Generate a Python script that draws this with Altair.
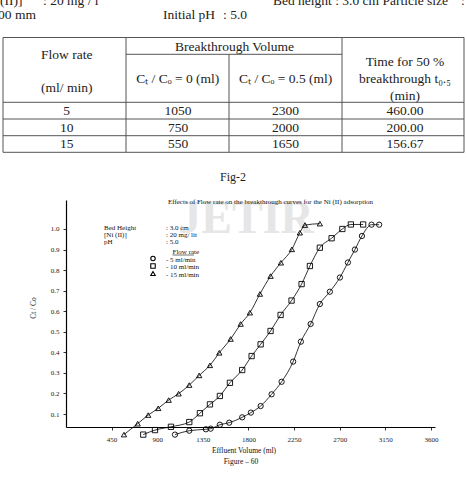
import altair as alt
import pandas as pd

# ---------------- data ----------------
rate_names = ["5", "10", "15"]

# 15 ml/min (triangles)
tri_vol = [572, 707, 811, 910, 1013, 1111, 1216, 1314, 1420, 1512, 1624, 1723, 1814,
           1913, 2018, 2120, 2228, 2307, 2357, 2504]
tri_ratio = [0.0, 0.053, 0.095, 0.128, 0.168, 0.199, 0.241, 0.288, 0.337, 0.398, 0.465,
             0.538, 0.593, 0.684, 0.771, 0.836, 0.901, 0.982, 1.019, 1.026]
# 10 ml/min (squares)
sq_vol = [762, 878, 1035, 1216, 1321, 1420, 1518, 1617, 1738, 1831, 1920, 2018, 2117,
          2225, 2324, 2406, 2504, 2620, 2726, 2810, 2931]
sq_ratio = [0.0, 0.022, 0.038, 0.061, 0.104, 0.147, 0.188, 0.252, 0.314, 0.382, 0.439,
            0.504, 0.582, 0.652, 0.732, 0.820, 0.909, 0.955, 1.0, 1.022, 1.022]
# 5 ml/min (circles)
ci_vol = [1075, 1216, 1380, 1427, 1518, 1610, 1738, 1824, 1920, 2028, 2127, 2241, 2317,
          2413, 2504, 2603, 2702, 2781, 2850, 2919, 3014, 3089]
ci_ratio = [0.0, 0.019, 0.026, 0.029, 0.048, 0.058, 0.084, 0.107, 0.139, 0.196, 0.257,
            0.355, 0.452, 0.538, 0.635, 0.695, 0.764, 0.837, 0.900, 0.966, 1.021, 1.021]

x_ticks = [450, 900, 1350, 1800, 2250, 2700, 3150, 3600]
y_ticks = [0.1, 0.2, 0.3, 0.4, 0.5, 0.6, 0.7, 0.8, 0.9, 1.0]

# table
flow_rates = ["5", "10", "15"]
bv_zero = ["1050", "750", "550"]
bv_half = ["2300", "2000", "1650"]
t_half = ["460.00", "200.00", "156.67"]

# ---------------- layout ----------------
FONT = "Liberation Serif"
OX, OY = 66, 200          # plot origin on the page
W, H = 369, 227           # plot area
PAGE_W, PAGE_H = 467, 478


def rx(v):
    return v - OX


def ry(v):
    return v - OY


rows = []
for vol, rat, name in ((ci_vol, ci_ratio, "5"), (sq_vol, sq_ratio, "10"), (tri_vol, tri_ratio, "15")):
    for a, b in zip(vol, rat):
        rows.append({"vol": a, "ratio": b, "rate": name})
df = pd.DataFrame(rows)

x_enc = alt.X("vol:Q", scale=alt.Scale(domain=[0, 3640], nice=False, zero=False),
              axis=alt.Axis(values=x_ticks, title=None, labelPadding=5, tickSize=3,
                            format="d", labelFlush=False))
y_enc = alt.Y("ratio:Q", scale=alt.Scale(domain=[0.037, 1.141], nice=False, zero=False),
              axis=alt.Axis(values=y_ticks, title=None, format=".1f", labelPadding=4, tickSize=3))

base = alt.Chart(df)
lines = base.mark_line(color="black", strokeWidth=0.8, interpolate="monotone").encode(
    x=x_enc, y=y_enc, detail="rate:N")
points = base.mark_point(filled=False, color="black", size=28, strokeWidth=0.9, opacity=1).encode(
    x=x_enc, y=y_enc,
    shape=alt.Shape("rate:N", scale=alt.Scale(domain=rate_names,
                                              range=["circle", "square", "triangle-up"]),
                    legend=None))


def text_layer(items, **kw):
    d = pd.DataFrame([{"x": rx(a), "y": ry(b), "t": t} for a, b, t in items])
    params = dict(font=FONT, color="#222")
    params.update(kw)
    return alt.Chart(d).mark_text(**params).encode(
        x=alt.X("x:Q", scale=None, axis=None),
        y=alt.Y("y:Q", scale=None, axis=None),
        text="t:N")


def rule_layer(segs, **kw):
    d = pd.DataFrame([{"x": rx(a), "x2": rx(b), "y": ry(c), "y2": ry(e)} for a, b, c, e in segs])
    return alt.Chart(d).mark_rule(**kw).encode(
        x=alt.X("x:Q", scale=None, axis=None), x2="x2:Q",
        y=alt.Y("y:Q", scale=None, axis=None), y2="y2:Q")


# watermark
watermark = text_layer([(246, 219, "JETIR")], fontSize=46, fontWeight="bold",
                       color="#e6e6e6", align="center", baseline="middle")

# header lines above the table (partly cut at the top of the page)
header = text_layer([
    (0, 5, "(II)]"), (43, 5, ": 20 mg / l"),
    (273, 5, "Bed height : 3.0 cm Particle size"), (461, 5, ":"),
    (-2, 19, "00 mm"), (163, 19, "Initial pH"), (223, 19, ": 5.0"),
], fontSize=13.5, align="left", baseline="alphabetic")

# table
TX = [3, 126, 229, 342, 464]
TY = [37.5, 54.3, 102.3, 119, 135.7, 152.3]
table_lines = rule_layer(
    [(TX[0], TX[-1], TY[0], TY[0]), (TX[1], TX[3], TY[1], TY[1])]
    + [(TX[0], TX[-1], y, y) for y in TY[2:]]
    + [(x, x, TY[0], TY[-1]) for x in (TX[0], TX[1], TX[3], TX[4])]
    + [(TX[2], TX[2], TY[1], TY[-1])],
    color="#555", strokeWidth=1)

col_c = [66.7, 178, 285.5, 405]
row_c = [111.3, 127.5, 144]
cells = []
for i in range(3):
    for j, vals in enumerate((flow_rates, bv_zero, bv_half, t_half)):
        cells.append((col_c[j], row_c[i], vals[i]))
cells += [
    (66.7, 54.5, "Flow rate"), (66.7, 87.5, "(ml/ min)"),
    (234.5, 46.5, "Breakthrough Volume"),
    (177.7, 79, "C\u209c / C\u2092 = 0 (ml)"), (285.7, 79, "C\u209c / C\u2092 = 0.5 (ml)"),
    (405, 62.3, "Time for 50 %"), (405, 79, "breakthrough t\u2080.\u2085"), (405, 95.7, "(min)"),
]
table_text = text_layer(cells, fontSize=13.5, align="center", baseline="middle")

fig_label = text_layer([(233, 177, "Fig-2")], fontSize=12, align="center", baseline="middle")

# chart annotations
chart_title = text_layer([(270.5, 202, "Effects of Flow rate on the breakthrough curves for the Ni (II) adsorption")],
                         fontSize=7, align="center", baseline="middle", color="#111")
legend_text = text_layer([
    (104, 228, "Bed Height"), (166, 228, ": 3.0 cm"),
    (104, 235, "[Ni (II)]"), (166, 235, ": 20 mg/ lit"),
    (104, 242, "pH"), (166, 242, ": 5.0"),
    (172.5, 251.5, "Flow rate"),
    (166, 259.5, "- 5 ml/min"), (166, 267, "- 10 ml/min"), (166, 274.5, "- 15 ml/min"),
], fontSize=7, align="left", baseline="middle", color="#111")
underline = rule_layer([(172.5, 194, 255, 255)], color="#111", strokeWidth=0.6)

leg_pts = pd.DataFrame([
    {"x": rx(153), "y": ry(258.5), "s": "circle"},
    {"x": rx(153), "y": ry(266), "s": "square"},
    {"x": rx(153), "y": ry(273.5), "s": "triangle-up"},
])
legend_marks = alt.Chart(leg_pts).mark_point(filled=False, color="black", size=20, strokeWidth=1.1,
                                             opacity=1).encode(
    x=alt.X("x:Q", scale=None, axis=None), y=alt.Y("y:Q", scale=None, axis=None),
    shape=alt.Shape("s:N", scale=None))

axis_titles = text_layer([(244, 450.5, "Effluent Volume (ml)"), (241, 462, "Figure \u2013 60")],
                         fontSize=7.5, align="center", baseline="middle", color="#111")
y_title = text_layer([(34, 308, "Ct / Co")], fontSize=7.5, align="center", baseline="middle",
                     angle=270, color="#111")

chart = alt.layer(
    watermark, header, table_lines, table_text, fig_label,
    chart_title, legend_text, underline, legend_marks, axis_titles, y_title,
    lines, points,
).properties(
    width=W, height=H,
    padding={"left": OX, "top": OY, "right": PAGE_W - OX - W, "bottom": PAGE_H - OY - H},
    autosize=alt.AutoSizeParams(type="none"),
    background="white",
).configure_view(stroke=None).configure_axis(
    grid=False, domainColor="black", domainWidth=1.2, tickColor="black", tickWidth=0.8,
    labelFont=FONT, labelFontSize=7, labelColor="#222",
)

chart.save("out.html", embed_options={"renderer": "svg", "actions": False})
